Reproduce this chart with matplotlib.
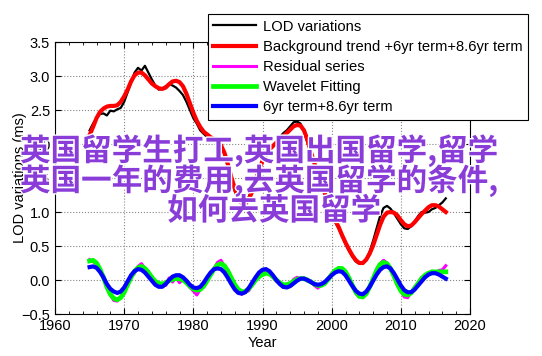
import numpy as np
import matplotlib

matplotlib.use("Agg")
import matplotlib.pyplot as plt
import matplotlib.patheffects as pe
from matplotlib.ticker import MultipleLocator

# half-year sampling, 1965.0 .. 2016.5
years = np.arange(1965.0, 2016.51, 0.5)

lod = [
    2.20, 2.30, 2.38, 2.44, 2.45, 2.42, 2.49, 2.48, 2.51, 2.53,
    2.62, 2.76, 2.90, 3.05, 3.12, 3.08, 3.15, 3.05, 2.95, 2.86,
    2.80, 2.81, 2.85, 2.88, 2.86, 2.83, 2.78, 2.72, 2.62, 2.50,
    2.38, 2.30, 2.20, 2.15, 2.10, 2.06, 2.04, 2.05, 1.99, 1.85,
    1.66, 1.48, 1.30, 1.18, 1.12, 1.13, 1.22, 1.36, 1.50, 1.64,
    1.77, 1.87, 1.93, 1.96, 2.02, 2.10, 2.16, 2.20, 2.26, 2.32,
    2.33, 2.30, 2.18, 2.02, 1.86, 1.70, 1.56, 1.41, 1.26, 1.10,
    0.95, 0.85, 0.76, 0.64, 0.53, 0.43, 0.34, 0.27, 0.24, 0.24,
    0.31, 0.42, 0.58, 0.76, 0.94, 1.06, 1.09, 1.05, 0.98, 0.90,
    0.82, 0.76, 0.75, 0.79, 0.86, 0.94, 1.00, 0.99, 1.00, 1.04,
    1.06, 1.10, 1.14, 1.20,
]

background = [
    2.13, 2.25, 2.38, 2.47, 2.52, 2.55, 2.56, 2.56, 2.57, 2.62,
    2.70, 2.80, 2.92, 3.01, 3.05, 3.05, 3.01, 2.95, 2.89, 2.85,
    2.82, 2.81, 2.83, 2.88, 2.92, 2.93, 2.91, 2.85, 2.74, 2.60,
    2.46, 2.34, 2.25, 2.18, 2.14, 2.10, 2.07, 2.04, 1.98, 1.87,
    1.70, 1.51, 1.34, 1.21, 1.13, 1.12, 1.18, 1.30, 1.46, 1.62,
    1.75, 1.85, 1.92, 1.97, 2.02, 2.07, 2.11, 2.16, 2.21, 2.26,
    2.28, 2.27, 2.20, 2.06, 1.88, 1.72, 1.58, 1.43, 1.28, 1.13,
    0.99, 0.88, 0.78, 0.66, 0.55, 0.45, 0.36, 0.29, 0.25, 0.25,
    0.30, 0.39, 0.51, 0.66, 0.81, 0.93, 0.99, 1.00, 0.99, 0.95,
    0.88, 0.82, 0.79, 0.80, 0.85, 0.91, 0.97, 1.02, 1.07, 1.10,
    1.10, 1.08, 1.04, 1.00,
]

residual = [
    0.30, 0.27, 0.24, 0.14, 0.06, -0.12, -0.22, -0.30, -0.31, -0.25,
    -0.20, -0.05, 0.06, 0.10, 0.20, 0.24, 0.17, 0.13, 0.02, -0.04,
    -0.09, -0.05, -0.08, 0.03, -0.03, 0.04, -0.04, 0.01, -0.05, -0.11,
    -0.16, -0.22, -0.14, -0.10, 0.02, 0.07, 0.17, 0.26, 0.29, 0.20,
    0.15, 0.01, -0.09, -0.14, -0.21, -0.17, -0.16, -0.06, 0.02, 0.04,
    0.09, 0.12, 0.08, 0.06, -0.02, -0.05, -0.11, -0.06, -0.07, 0.01,
    0.04, 0.01, 0.03, -0.02, -0.01, -0.08, -0.12, -0.07, -0.06, 0.03,
    0.09, 0.13, 0.18, 0.15, 0.13, 0.01, -0.07, -0.20, -0.25, -0.24,
    -0.21, -0.08, 0.01, 0.16, 0.24, 0.29, 0.25, 0.15, 0.07, -0.08,
    -0.15, -0.25, -0.26, -0.18, -0.10, -0.06, 0.04, 0.05, 0.08, 0.13,
    0.10, 0.14, 0.15, 0.21,
]

wavelet = [
    0.28, 0.29, 0.25, 0.16, 0.04, -0.10, -0.21, -0.27, -0.29, -0.26,
    -0.18, -0.07, 0.04, 0.13, 0.18, 0.20, 0.17, 0.11, 0.04, -0.02,
    -0.05, -0.06, -0.04, -0.01, 0.01, 0.02, 0.02, 0.00, -0.04, -0.09,
    -0.13, -0.15, -0.14, -0.09, -0.01, 0.08, 0.16, 0.22, 0.24, 0.21,
    0.13, 0.03, -0.07, -0.14, -0.17, -0.17, -0.13, -0.07, 0.00, 0.05,
    0.08, 0.10, 0.09, 0.05, 0.00, -0.04, -0.07, -0.07, -0.05, -0.02,
    0.01, 0.02, 0.02, 0.00, -0.03, -0.06, -0.08, -0.08, -0.05, 0.01,
    0.08, 0.14, 0.17, 0.17, 0.12, 0.03, -0.08, -0.18, -0.24, -0.25,
    -0.20, -0.10, 0.02, 0.14, 0.23, 0.26, 0.24, 0.17, 0.06, -0.06,
    -0.16, -0.21, -0.22, -0.19, -0.12, -0.05, 0.02, 0.07, 0.10, 0.12,
    0.12, 0.12, 0.12, 0.12,
]

terms_6_86 = [
    0.19, 0.20, 0.18, 0.12, 0.04, -0.06, -0.13, -0.17, -0.19, -0.17,
    -0.11, -0.02, 0.07, 0.13, 0.16, 0.15, 0.11, 0.05, -0.01, -0.07,
    -0.10, -0.10, -0.06, 0.00, 0.05, 0.07, 0.07, 0.04, -0.01, -0.07,
    -0.11, -0.12, -0.10, -0.04, 0.04, 0.11, 0.16, 0.17, 0.16, 0.11,
    0.03, -0.06, -0.14, -0.19, -0.20, -0.18, -0.12, -0.04, 0.04, 0.11,
    0.15, 0.16, 0.13, 0.07, 0.00, -0.06, -0.10, -0.11, -0.09, -0.05,
    -0.01, 0.02, 0.02, 0.00, -0.03, -0.06, -0.07, -0.06, -0.03, 0.02,
    0.07, 0.11, 0.13, 0.12, 0.07, -0.01, -0.09, -0.16, -0.20, -0.21,
    -0.17, -0.10, -0.01, 0.08, 0.15, 0.19, 0.20, 0.17, 0.10, 0.01,
    -0.08, -0.15, -0.18, -0.18, -0.14, -0.08, -0.02, 0.04, 0.08, 0.10,
    0.10, 0.08, 0.05, 0.02,
]

labels = [
    "LOD variations",
    "Background trend +6yr term+8.6yr term",
    "Residual series",
    "Wavelet Fitting",
    "6yr term+8.6yr term",
]

overlay_lines = [
    "英国留学生打工,英国出国留学,留学",
    "英国一年的费用,去英国留学的条件,",
    "如何去英国留学",
]

plt.rcParams["font.family"] = ["Liberation Sans", "DejaVu Sans"]

fig = plt.figure(figsize=(5.42, 3.56), dpi=100)
ax = fig.add_axes([55 / 542, 1 - 314 / 356, 415 / 542, 272 / 356])

ax.plot(years, lod, color="black", lw=1.6, label=labels[0])
ax.plot(years, background, color="red", lw=3.0, label=labels[1])
ax.plot(years, residual, color="magenta", lw=2.2, label=labels[2])
ax.plot(years, wavelet, color="#00ff00", lw=3.4, label=labels[3])
ax.plot(years, terms_6_86, color="blue", lw=3.0, label=labels[4])

ax.set_xlim(1960, 2020)
ax.set_ylim(-0.5, 3.5)
ax.xaxis.set_major_locator(MultipleLocator(10))
ax.xaxis.set_minor_locator(MultipleLocator(2))
ax.yaxis.set_major_locator(MultipleLocator(0.5))
ax.tick_params(which="both", direction="in", top=True, right=True, labelsize=10.5)
ax.tick_params(which="major", length=4)
ax.tick_params(which="minor", length=2)
ax.grid(True, which="major", linestyle=":", color="#888888", lw=0.8)
for s in ax.spines.values():
    s.set_linewidth(0.8)

ax.set_xlabel("Year", fontsize=10.5)
ax.set_ylabel("LOD variations (ms)", fontsize=10.5)
ax.xaxis.set_label_coords(0.5, -0.08)
ax.yaxis.set_label_coords(-0.068, 0.5)

leg = ax.legend(loc="upper right", bbox_to_anchor=(528 / 542, 1 - 14 / 356),
                bbox_transform=fig.transFigure, borderaxespad=0, fontsize=10.6,
                handlelength=2.9, handletextpad=0.45, labelspacing=0.42,
                borderpad=0.38, fancybox=False, framealpha=1, edgecolor="black")
leg.get_frame().set_linewidth(0.8)

cjk = ["Noto Sans CJK SC", "DejaVu Sans"]
stroke = [pe.withStroke(linewidth=2, foreground="white")]
fig.text(20 / 542, 1 - 151 / 356, overlay_lines[0], family=cjk, weight="bold",
         fontsize=22, color="#8a3cd8", ha="left", va="center", path_effects=stroke)
fig.text(20 / 542, 1 - 181 / 356, overlay_lines[1], family=cjk, weight="bold",
         fontsize=22, color="#8a3cd8", ha="left", va="center", path_effects=stroke)
fig.text(274 / 542, 1 - 211 / 356, overlay_lines[2], family=cjk, weight="bold",
         fontsize=22, color="#8a3cd8", ha="center", va="center", path_effects=stroke)

fig.savefig("out.png", dpi=100)
